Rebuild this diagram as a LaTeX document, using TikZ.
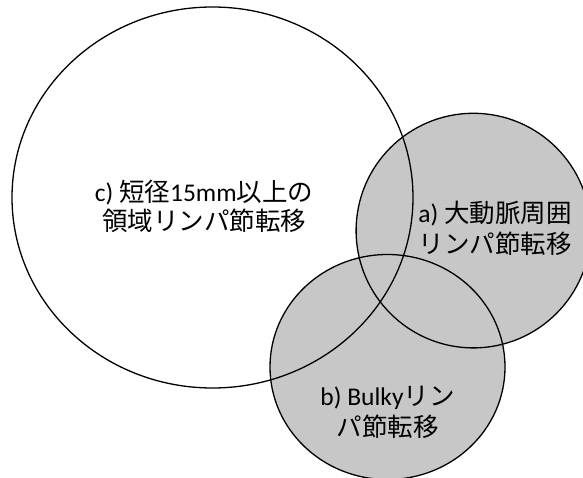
\documentclass[tikz,border=0pt]{standalone}
\usepackage{fontspec}
\setmainfont{Carlito}
\newfontfamily\cjk{Noto Sans CJK JP}
\tikzset{
  vennline/.style={line width=1.3pt, black},
  vennfill/.style={fill=black!22},
  lbl/.style={align=center, font=\fontsize{25.5}{30.5}\selectfont, inner sep=0pt}
}
\begin{document}
\begin{tikzpicture}[x=1pt,y=-1pt]
\useasboundingbox (0,0) rectangle (583,478);
\fill[white] (0,0) rectangle (583,478);
% fills
\fill[vennfill] (473.4,230.6) circle [radius=117.3pt];
\fill[vennfill] (387.5,367) ellipse [x radius=117.5pt, y radius=112.5pt];
% outlines
\draw[vennline] (212.5,197.5) ellipse [x radius=200.5pt, y radius=190.5pt];
\draw[vennline] (473.4,230.6) circle [radius=117.3pt];
\draw[vennline] (387.5,367) ellipse [x radius=117.5pt, y radius=112.5pt];
% labels
\node[lbl] (lc) at (204,206) {c) {\cjk 短径}15mm{\cjk 以上の}\\[-1.5pt]{\cjk 領域リンパ節転移}};
\node[lbl] (la) at (495,228.5) {a) {\cjk 大動脈周囲}\\{\cjk リンパ節転移}};
\node[lbl] (lb) at (387.5,412.5) {b) Bulky{\cjk リン}\\{\cjk パ節転移}};
\end{tikzpicture}
\end{document}
